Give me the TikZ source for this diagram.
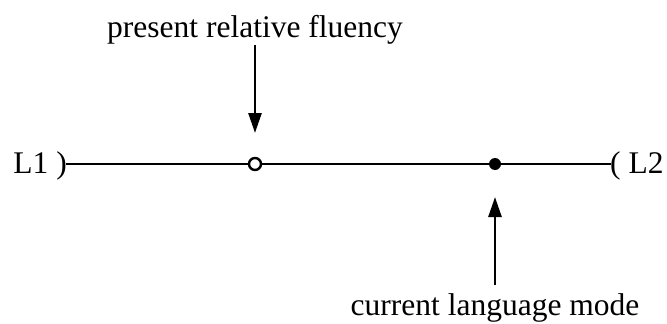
\documentclass[tikz,border=0pt]{standalone}
\usepackage{fontspec}
\setmainfont{Liberation Serif}
\usetikzlibrary{arrows.meta}
\begin{document}
\begin{tikzpicture}[x=1pt,y=-1pt,
  txt/.style={inner sep=0pt,font=\fontsize{31.5}{36}\selectfont},
  axis/.style={line width=2.6pt},
  pointer/.style={line width=2.6pt,-{Triangle[length=20pt,width=13pt]}},
  opendot/.style={circle,draw,line width=2.4pt,fill=white,minimum size=12pt,inner sep=0pt},
  fulldot/.style={circle,fill=black,minimum size=12pt,inner sep=0pt}]
\useasboundingbox (0,0) rectangle (667,324);
% the continuum between the two languages
\node[txt,anchor=base east] (l1) at (67,173) {L1 )};
\node[txt,anchor=base west] (l2) at (610,173) {( L2};
\coordinate (lend) at (66,164);
\coordinate (rend) at (611,164);
\draw[axis] (lend) -- (rend);
\node[opendot] (fluency) at (255,164) {};
\node[fulldot] (mode) at (495,164) {};
% labels and their pointers
\node[txt,anchor=base] (flab) at (255,37.5) {present relative fluency};
\node[txt,anchor=base] (mlab) at (495,315.5) {current language mode};
\coordinate (ftail) at (255,45);
\coordinate (ftip) at (255,133);
\coordinate (mtail) at (495,285);
\coordinate (mtip) at (495,197);
\draw[pointer] (ftail) -- (ftip);
\draw[pointer] (mtail) -- (mtip);
\end{tikzpicture}
\end{document}
